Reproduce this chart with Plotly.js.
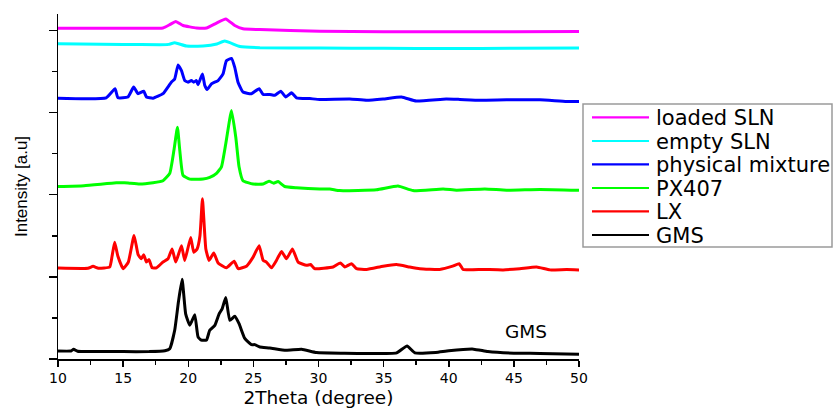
<!DOCTYPE html>
<html>
<head>
<meta charset="utf-8">
<script src="https://cdn.plot.ly/plotly-3.0.1.min.js"></script>
<style>html,body{margin:0;padding:0;background:#fff;}</style>
</head>
<body>
<div id="chart" style="width:833px;height:408px;"></div>
<script>
// ---- data (2Theta in degrees, intensity in stacked arbitrary units) ----
const gmsX = [10, 11.0, 11.2, 11.5, 13, 15, 17, 18.2, 18.58, 18.96, 19.25, 19.53, 19.8, 20.12, 20.5, 20.75, 21.0, 21.4, 21.65, 22.04, 22.37, 22.6, 22.88, 23.19, 23.57, 23.9, 24.34, 24.85, 25.1, 25.5, 26.26, 27.5, 28.7, 29.85, 32, 34, 36.0, 36.8, 37.4, 39, 40, 41.9, 43, 45, 47, 50];
const gmsY = [0.097, 0.098, 0.118, 0.095, 0.092, 0.09, 0.09, 0.1, 0.126, 0.35, 0.7, 0.97, 0.55, 0.41, 0.54, 0.27, 0.23, 0.23, 0.35, 0.41, 0.55, 0.61, 0.75, 0.47, 0.52, 0.43, 0.25, 0.175, 0.175, 0.146, 0.135, 0.106, 0.118, 0.078, 0.07, 0.066, 0.075, 0.158, 0.075, 0.08, 0.1, 0.12, 0.09, 0.07, 0.068, 0.057];

const lxX = [10, 12.3, 12.69, 13.1, 13.97, 14.15, 14.35, 14.6, 15.0, 15.4, 15.84, 16.15, 16.4, 16.58, 16.79, 16.99, 17.22, 17.56, 18.06, 18.45, 18.76, 19.04, 19.48, 19.73, 20.19, 20.42, 20.68, 20.9, 21.09, 21.35, 21.6, 21.96, 22.29, 22.93, 23.52, 23.83, 24.47, 24.98, 25.44, 25.75, 26.0, 26.39, 26.77, 27.16, 27.54, 28.0, 28.43, 29.08, 29.4, 29.7, 31.12, 31.69, 32.02, 32.53, 32.92, 33.7, 34.96, 35.99, 37.0, 37.78, 39.3, 40.3, 40.8, 41.1, 42.64, 44.18, 45.46, 46.74, 47.77, 49.05, 50];
const lxY = [1.107, 1.105, 1.128, 1.105, 1.12, 1.25, 1.42, 1.25, 1.10, 1.18, 1.505, 1.27, 1.22, 1.27, 1.18, 1.21, 1.11, 1.11, 1.18, 1.22, 1.34, 1.18, 1.38, 1.20, 1.48, 1.30, 1.34, 1.5, 1.95, 1.34, 1.20, 1.29, 1.17, 1.11, 1.19, 1.10, 1.13, 1.24, 1.38, 1.20, 1.18, 1.11, 1.20, 1.31, 1.22, 1.34, 1.18, 1.14, 1.15, 1.10, 1.12, 1.17, 1.12, 1.16, 1.10, 1.09, 1.13, 1.15, 1.12, 1.10, 1.09, 1.13, 1.16, 1.09, 1.09, 1.085, 1.10, 1.12, 1.085, 1.09, 1.085];

const pxX = [10, 12, 14.48, 15.1, 15.5, 16.27, 17.3, 18.06, 18.58, 18.9, 19.17, 19.35, 19.6, 20.12, 21.14, 21.65, 22.17, 22.55, 22.88, 23.32, 23.65, 23.9, 24.2, 24.98, 25.75, 26.2, 26.56, 26.9, 27.4, 28.3, 30.1, 30.87, 31.64, 34.45, 36.1, 37.26, 39.57, 40.6, 42.77, 44.44, 47.0, 50];
const pxY = [2.10, 2.11, 2.145, 2.146, 2.14, 2.13, 2.146, 2.17, 2.26, 2.54, 2.82, 2.54, 2.235, 2.19, 2.19, 2.21, 2.26, 2.34, 2.62, 3.025, 2.70, 2.34, 2.17, 2.13, 2.13, 2.165, 2.14, 2.16, 2.10, 2.085, 2.07, 2.07, 2.05, 2.06, 2.105, 2.05, 2.07, 2.055, 2.07, 2.055, 2.065, 2.055];

const pmX = [10, 13.7, 14.38, 14.6, 15.37, 15.81, 16.14, 16.58, 16.79, 17.3, 18.06, 18.7, 18.96, 19.22, 19.48, 19.73, 19.98, 20.24, 20.42, 20.63, 20.75, 21.09, 21.27, 21.45, 21.78, 22.29, 22.67, 22.93, 23.32, 23.57, 23.82, 24.2, 24.85, 25.44, 25.75, 26.26, 26.64, 27.1, 27.49, 27.93, 28.31, 29.33, 30.1, 32.4, 33.7, 34.96, 36.37, 37.5, 39.8, 40.85, 42.4, 44.44, 47.0, 49.05, 50];
const pmY = [3.175, 3.18, 3.29, 3.18, 3.19, 3.31, 3.23, 3.26, 3.19, 3.175, 3.23, 3.37, 3.41, 3.58, 3.51, 3.39, 3.37, 3.39, 3.37, 3.39, 3.34, 3.47, 3.33, 3.28, 3.35, 3.39, 3.47, 3.63, 3.66, 3.55, 3.37, 3.25, 3.23, 3.29, 3.22, 3.22, 3.21, 3.26, 3.19, 3.24, 3.18, 3.17, 3.16, 3.165, 3.15, 3.165, 3.19, 3.14, 3.165, 3.16, 3.15, 3.155, 3.155, 3.135, 3.135];

const esX = [10, 15, 17.8, 18.5, 18.96, 19.86, 21.14, 22.2, 22.8, 23.96, 25.5, 30.1, 35, 40, 45, 50];
const esY = [3.837, 3.83, 3.825, 3.83, 3.85, 3.81, 3.81, 3.835, 3.87, 3.805, 3.79, 3.785, 3.782, 3.78, 3.782, 3.785];

const lsX = [10, 15, 18.06, 18.58, 19.04, 19.6, 20.63, 21.4, 22.17, 22.88, 23.57, 24.2, 25.5, 30.1, 35, 40, 45, 50];
const lsY = [4.027, 4.027, 4.03, 4.07, 4.11, 4.06, 4.03, 4.03, 4.09, 4.14, 4.06, 4.02, 4.01, 3.99, 3.985, 3.985, 3.985, 3.987];

const seriesNames = ['loaded SLN', 'empty SLN', 'physical mixture', 'PX407', 'LX', 'GMS'];
const seriesColors = ['#ff00ff', '#00ffff', '#0000ff', '#00ff00', '#ff0000', '#000000'];
const seriesX = [lsX, esX, pmX, pxX, lxX, gmsX];
const seriesY = [lsY, esY, pmY, pxY, lxY, gmsY];
const xTicks = [10, 15, 20, 25, 30, 35, 40, 45, 50];

// ---- layout geometry ----
const W = 833, H = 408;
const M = {l: 58, r: 254, t: 14, b: 49};
const pw = W - M.l - M.r, ph = H - M.t - M.b;
const px2paper = (x) => (x - M.l) / pw;
const py2paper = (y) => (H - M.b - y) / ph;

const traces = seriesNames.map((n, i) => ({
  type: 'scatter', mode: 'lines', name: n,
  x: seriesX[i], y: seriesY[i],
  line: {color: seriesColors[i], width: 3, shape: 'spline', smoothing: 0.4},
  showlegend: false, hoverinfo: 'skip'
}));

// manual legend (box, sample lines, labels)
const shapes = [{
  type: 'rect', xref: 'paper', yref: 'paper',
  x0: px2paper(583), x1: px2paper(832), y0: py2paper(104), y1: py2paper(247),
  line: {color: '#9a9a9a', width: 1.5}, fillcolor: 'rgba(0,0,0,0)'
}];
const annotations = [];
const rowY = [117.3, 141, 164.3, 188, 211.3, 235];
seriesNames.forEach((n, i) => {
  shapes.push({type: 'line', xref: 'paper', yref: 'paper',
    x0: px2paper(592), x1: px2paper(649), y0: py2paper(rowY[i]), y1: py2paper(rowY[i]),
    line: {color: seriesColors[i], width: 2.2}});
  annotations.push({xref: 'paper', yref: 'paper', x: px2paper(654), y: py2paper(rowY[i] + 0.5),
    xanchor: 'left', yanchor: 'middle', showarrow: false, text: n, height: 23,
    font: {family: 'DejaVu Sans, sans-serif', size: 21, color: '#000'}});
});
annotations.push({xref: 'x', yref: 'y', x: 45.95, y: 0.33, xanchor: 'center', yanchor: 'middle',
  showarrow: false, text: 'GMS', font: {family: 'DejaVu Sans, sans-serif', size: 18.5, color: '#000'}});

const layout = {
  width: W, height: H,
  margin: M,
  paper_bgcolor: '#fff', plot_bgcolor: '#fff',
  showlegend: false,
  xaxis: {
    range: [10, 50], showgrid: false, zeroline: false,
    showline: true, linecolor: '#000', linewidth: 1.5,
    ticks: 'outside', ticklen: 6, tickwidth: 1.5, tickcolor: '#000',
    tickmode: 'array', tickvals: xTicks, ticktext: xTicks.map(String),
    minor: {dtick: 2.5, ticks: 'outside', ticklen: 4, tickwidth: 1.5, tickcolor: '#000', showgrid: false},
    tickfont: {family: 'DejaVu Sans, sans-serif', size: 14, color: '#000'},
    title: {text: '2Theta (degree)', standoff: 8, font: {family: 'DejaVu Sans, sans-serif', size: 18.5, color: '#000'}},
    automargin: false
  },
  yaxis: {
    range: [0, 4.2], showgrid: false, zeroline: false,
    showline: true, linecolor: '#000', linewidth: 1.5,
    ticks: 'outside', ticklen: 8, tickwidth: 1.5, tickcolor: '#000',
    dtick: 1, tick0: 0, showticklabels: false,
    minor: {dtick: 0.5, ticks: 'outside', ticklen: 5, tickwidth: 1.5, tickcolor: '#000', showgrid: false},
    title: {text: 'Intensity [a.u]', standoff: 16, font: {family: 'Liberation Sans, Arial, sans-serif', size: 17, color: '#000'}},
    automargin: false
  },
  shapes: shapes,
  annotations: annotations
};

Plotly.newPlot('chart', traces, layout, {displayModeBar: false, staticPlot: true});
</script>
</body>
</html>
